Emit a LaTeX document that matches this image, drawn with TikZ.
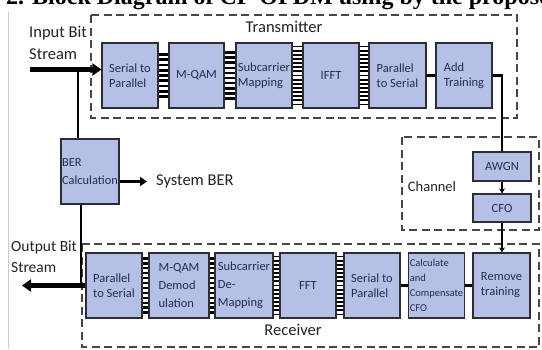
\documentclass[tikz,border=0pt]{standalone}
\usepackage{fontspec}
\setmainfont{Carlito}
\newfontfamily\titlefont{Liberation Serif}
\usetikzlibrary{arrows.meta,calc}
\definecolor{boxc}{RGB}{180,192,230}
\definecolor{bordc}{RGB}{45,45,50}
\definecolor{txtc}{RGB}{35,45,80}
\definecolor{dashc}{RGB}{70,70,70}
\definecolor{framec}{RGB}{190,205,235}
\definecolor{labc}{RGB}{35,35,35}
\newcommand{\ladder}[5]{%
  \pgfmathsetmacro\lst{2*#3/(#4-1)}
  \foreach \k in {1,...,#4}{
    \draw[black, line width=#5] ($(#1.east)+(0,{-#3+(\k-1)*\lst})$) -- ($(#2.west)+(0,{-#3+(\k-1)*\lst})$);
  }
}
\begin{document}
\begin{tikzpicture}[x=1pt,y=-1pt,
  blk/.style={draw=bordc, line width=1.2pt, fill=boxc, minimum height=65pt, inner sep=1pt,
    font=\fontsize{12.5}{15}\selectfont, text=txtc, align=left},
  grp/.style={draw=dashc, line width=1.8pt, dash pattern=on 8pt off 4.5pt},
  lbl/.style={font=\fontsize{16.5}{20}\selectfont, text=labc, inner sep=0pt},
  conn/.style={draw=black, line width=3pt},
  chl/.style={draw=black, line width=2.3pt},
  bigarrow/.style={draw=black, line width=4.5pt, -{Triangle[length=9pt,width=12pt]}},
  medarrow/.style={draw=black, line width=3pt, -{Triangle[length=7pt,width=9pt]}},
  smallarrow/.style={draw=black, line width=2pt, -{Stealth[length=5pt,width=6pt]}}]
\useasboundingbox (0,0) rectangle (542,349);
\clip (0,0) rectangle (542,349);
\fill[white] (0,0) rectangle (542,349);

\node[anchor=base west, inner sep=0pt, font=\titlefont\bfseries\fontsize{24}{28}\selectfont] (title) at (6,4.5) {2. Block Diagram of CP-OFDM using by the proposed scheme};
\draw[framec, line width=1pt] (8,12) -- (8,349);

% groups
\draw[grp] (91,15) rectangle (517,118);
\draw[grp] (402,137) rectangle (539,230);
\draw[grp] (82,244) rectangle (539,347);

\node[lbl] (txl) at (284,27) {Transmitter};
\node[lbl] (rxl) at (293,330) {Receiver};
\node[lbl, font=\fontsize{14.5}{17}\selectfont] (chlab) at (432,187) {Channel};
\node[lbl, anchor=base west] (in1) at (29,37) {Input Bit};
\node[lbl, anchor=base west] (in2) at (29,59) {Stream};
\node[lbl, anchor=base west, font=\fontsize{15.5}{19}\selectfont] (out1) at (11,251) {Output Bit};
\node[lbl, anchor=base west, font=\fontsize{15.5}{19}\selectfont] (out2) at (11,272) {Stream};

% transmitter
\node[blk, minimum width=56pt] (s2p) at (130,75.5) {Serial to\\Parallel};
\node[blk, minimum width=55pt] (mqam) at (196.5,75.5) {M-QAM};
\node[blk, minimum width=56pt] (smap) at (264,75.5) {Subcarrier\\Mapping};
\node[blk, minimum width=56pt] (ifft) at (331,75.5) {IFFT};
\node[blk, minimum width=57pt] (tp2s) at (397.5,75.5) {Parallel\\to Serial};
\node[blk, minimum width=56pt] (addt) at (464,75.5) {Add\\Training};

% receiver
\node[blk, minimum width=56pt] (rp2s) at (114,285.5) {Parallel\\to Serial};
\node[blk, minimum width=60pt, font=\fontsize{12.5}{18}\selectfont] (rdem) at (179,285.5) {M-QAM\\Demod\\ulation};
\node[blk, minimum width=58pt, font=\fontsize{12.5}{18}\selectfont] (sdem) at (244,285.5) {Subcarrier\\De-\\Mapping};
\node[blk, minimum width=56pt] (fft) at (308,285.5) {FFT};
\node[blk, minimum width=56pt] (rs2p) at (372,285.5) {Serial to\\Parallel};
\node[blk, minimum width=55pt, font=\fontsize{10.5}{15}\selectfont] (calc) at (436.5,285.5) {Calculate\\and\\Compensate\\CFO};
\node[blk, minimum width=57pt] (remt) at (501.5,285.5) {Remove\\training};

% channel
\node[blk, minimum width=58pt, minimum height=29pt] (awgn) at (502,166.5) {AWGN};
\node[blk, minimum width=58pt, minimum height=28pt] (cfo) at (502,208) {CFO};

% BER
\node[blk, minimum width=58pt, font=\fontsize{12.4}{18}\selectfont] (ber) at (90,171.5) {BER\\Calculation};
\node[lbl, anchor=west] (sysber) at (156,181.5) {System BER};

% ladders
\ladder{s2p}{mqam}{21}{9}{2.8pt}
\ladder{mqam}{smap}{23}{10}{2.6pt}
\ladder{smap}{ifft}{29}{15}{1.9pt}
\ladder{ifft}{tp2s}{29}{15}{1.9pt}
\ladder{rp2s}{rdem}{27}{12}{2.2pt}
\ladder{rdem}{sdem}{27}{12}{2.2pt}
\ladder{sdem}{fft}{29}{15}{1.9pt}
\ladder{fft}{rs2p}{29}{15}{1.9pt}

% single links
\draw[conn] (tp2s.east) -- (addt.west);
\draw[conn] (rs2p.east) -- (calc.west);
\draw[conn] (calc.east) -- (remt.west);

% channel path
\coordinate (c1) at (awgn.north |- addt.east);
\draw[chl] (addt.east) -- (c1) -- (awgn.north);
\draw[smallarrow] (awgn.south) -- (cfo.north);
\draw[smallarrow] (cfo.south) -- (cfo.south |- remt.north);

% input / output
\coordinate (inS) at (30,69.5);
\draw[bigarrow] (inS) -- (inS -| s2p.west);
\coordinate (j1) at (78,69.5);
\draw[line width=2pt] (j1) -- (j1 |- ber.north);
\coordinate (j2) at (81,285.5);
\draw[line width=2pt] (j2 |- ber.south) -- (j2);
\coordinate (outE) at (22,285.5);
\draw[bigarrow] (rp2s.west) -- (outE);
\draw[medarrow] ($(ber.east)+(0,10)$) -- ($(sysber.west)+(-9,0)$);
\end{tikzpicture}
\end{document}
